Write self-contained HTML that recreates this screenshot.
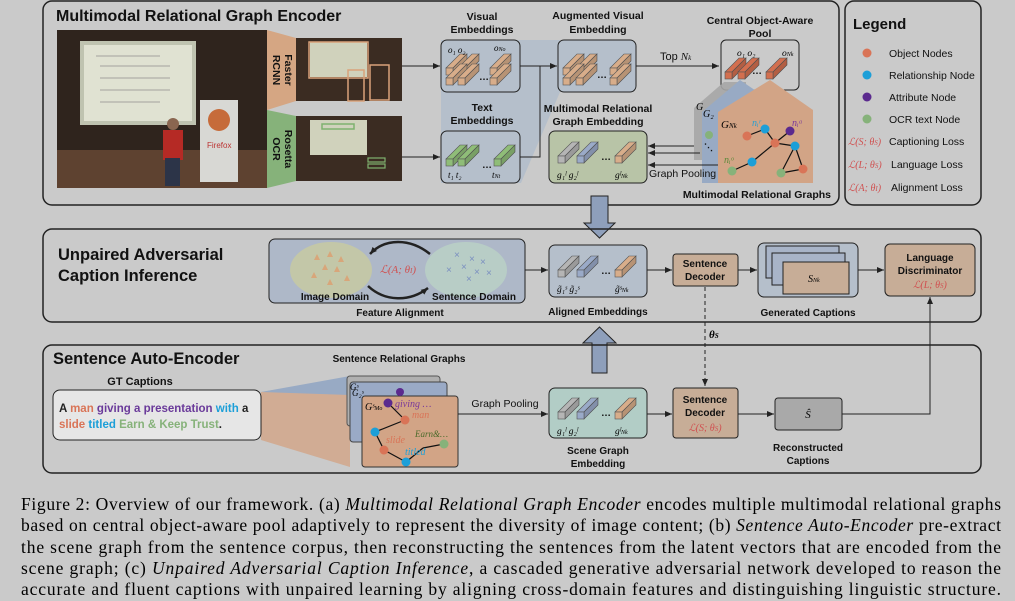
<!DOCTYPE html>
<html><head><meta charset="utf-8"><style>
html,body{margin:0;padding:0;background:#cacaca;}
svg{display:block;}
.b{font-family:"Liberation Sans",sans-serif;font-weight:bold;fill:#111;}
.n{font-family:"Liberation Sans",sans-serif;fill:#111;}
.m{font-family:"Liberation Serif",serif;font-style:italic;}
.cap{font-family:"Liberation Serif",serif;font-size:17.5px;fill:#000;}
</style></head><body>
<svg width="1015" height="601" viewBox="0 0 1015 601" xmlns="http://www.w3.org/2000/svg">
<defs>
<marker id="ah" markerWidth="8" markerHeight="8" refX="7" refY="4" orient="auto" markerUnits="userSpaceOnUse"><path d="M0,1 L7,4 L0,7z" fill="#222"/></marker>
<g id="bar">
<polygon points="0,14 14,0 21,0 7,14" stroke="#555" stroke-width="0.6"/>
<polygon points="7,14 21,0 21,7 7,21" stroke="#555" stroke-width="0.6"/>
<polygon points="7,14 21,0 21,7 7,21" fill="#000" opacity="0.15"/>
<rect x="0" y="14" width="7" height="7" stroke="#555" stroke-width="0.6"/>
</g>
</defs>
<rect width="1015" height="601" fill="#cacaca"/>

<!-- TOP BOX -->
<rect x="43" y="1" width="796" height="204" rx="9" fill="none" stroke="#222" stroke-width="1.5"/>
<text x="56" y="21" class="b" font-size="16">Multimodal Relational Graph Encoder</text>
<!-- photo -->
<rect x="57" y="30" width="210" height="158" fill="#2f241d"/>
<rect x="57" y="150" width="210" height="38" fill="#5e4230"/>
<rect x="80" y="41" width="116" height="84" fill="#bfc3b0"/>
<rect x="84" y="45" width="108" height="76" fill="#e0e2d2"/>
<g stroke="#b8b8b0" stroke-width="1.5"><line x1="96" y1="56" x2="160" y2="56"/><line x1="100" y1="66" x2="170" y2="66"/><line x1="100" y1="78" x2="170" y2="78"/><line x1="100" y1="90" x2="170" y2="90"/><line x1="100" y1="102" x2="160" y2="102"/></g>
<rect x="200" y="100" width="38" height="82" fill="#d8d8d4"/>
<circle cx="219" cy="120" r="11" fill="#c66b3a"/>
<text x="207" y="148" font-family="Liberation Sans" font-size="8" fill="#b33">Firefox</text>
<rect x="163" y="130" width="20" height="30" fill="#b52a25"/>
<rect x="165" y="158" width="15" height="28" fill="#2c3448"/>
<circle cx="173" cy="124" r="6" fill="#8a6650"/>
<!-- trapezoids -->
<polygon points="267,30 296,38 296,101 267,110" fill="#d5a683"/>
<polygon points="267,110 296,116 296,181 267,188" fill="#86b27a"/>
<text transform="translate(285,70) rotate(90)" class="b" font-size="10.5" text-anchor="middle">Faster</text>
<text transform="translate(273,70) rotate(90)" class="b" font-size="10.5" text-anchor="middle">RCNN</text>
<text transform="translate(285,149) rotate(90)" class="b" font-size="10.5" text-anchor="middle">Rosetta</text>
<text transform="translate(273,149) rotate(90)" class="b" font-size="10.5" text-anchor="middle">OCR</text>
<!-- small images -->
<rect x="296" y="38" width="106" height="63" fill="#3b2c22"/>
<rect x="310" y="42" width="57" height="35" fill="#d0d2bc"/>
<rect x="309" y="42" width="59" height="36" fill="none" stroke="#d9a27a" stroke-width="1.5"/>
<rect x="348" y="70" width="16" height="31" fill="none" stroke="#d9a27a" stroke-width="1.5"/>
<rect x="370" y="65" width="19" height="35" fill="none" stroke="#d9a27a" stroke-width="1.5"/>
<rect x="296" y="116" width="106" height="65" fill="#3b2c22"/>
<rect x="310" y="120" width="57" height="35" fill="#d0d2bc"/>
<rect x="322" y="124" width="32" height="5" fill="none" stroke="#7fb26e" stroke-width="1.5"/>
<rect x="368" y="158" width="17" height="4" fill="none" stroke="#7fb26e" stroke-width="1.2"/>
<rect x="368" y="164" width="17" height="4" fill="none" stroke="#7fb26e" stroke-width="1.2"/>
<line x1="402" y1="66" x2="440" y2="66" stroke="#222" marker-end="url(#ah)"/>
<line x1="402" y1="157" x2="440" y2="157" stroke="#222" marker-end="url(#ah)"/>
<!-- blue band -->
<polygon points="441,40 560,40 560,92 521,183 441,183" fill="#b5bfcb"/>
<rect x="441" y="40" width="79" height="52" rx="6" fill="#b5bfcb" stroke="#222"/>
<rect x="441" y="131" width="79" height="52" rx="6" fill="#b5bfcb" stroke="#222"/>
<text x="482" y="20" class="b" font-size="10.5" text-anchor="middle">Visual</text>
<text x="482" y="33" class="b" font-size="10.5" text-anchor="middle">Embeddings</text>
<text x="482" y="111" class="b" font-size="10.5" text-anchor="middle">Text</text>
<text x="482" y="124" class="b" font-size="10.5" text-anchor="middle">Embeddings</text>
<g fill="#d8ad8a"><use href="#bar" x="446" y="54"/><use href="#bar" x="458" y="54"/><use href="#bar" x="446" y="64"/><use href="#bar" x="458" y="64"/><use href="#bar" x="490" y="54"/><use href="#bar" x="490" y="64"/></g>
<text x="479" y="80" class="b" font-size="10">…</text>
<text x="448" y="53" class="m" font-size="9">o₁ o₂</text><text x="494" y="51" class="m" font-size="9">o<tspan font-size="6">No</tspan></text>
<g fill="#8fbd78"><use href="#bar" x="446" y="145"/><use href="#bar" x="458" y="145"/><use href="#bar" x="494" y="145"/></g>
<text x="482" y="168" class="b" font-size="10">…</text>
<text x="448" y="178" class="m" font-size="9">t₁ t₂</text><text x="492" y="178" class="m" font-size="9">t<tspan font-size="6">Nt</tspan></text>
<polyline points="520,157 540,157 540,66" fill="none" stroke="#222"/>
<line x1="520" y1="66" x2="557" y2="66" stroke="#222" marker-end="url(#ah)"/>
<!-- augmented -->
<rect x="558" y="40" width="78" height="52" rx="6" fill="#b5bfcb" stroke="#222"/>
<text x="598" y="19" class="b" font-size="10.5" text-anchor="middle">Augmented Visual</text>
<text x="598" y="33" class="b" font-size="10.5" text-anchor="middle">Embedding</text>
<g fill="#d8ad8a"><use href="#bar" x="563" y="54"/><use href="#bar" x="576" y="54"/><use href="#bar" x="563" y="64"/><use href="#bar" x="576" y="64"/><use href="#bar" x="610" y="54"/><use href="#bar" x="610" y="64"/></g>
<text x="597" y="78" class="b" font-size="10">…</text>
<line x1="636" y1="66" x2="719" y2="66" stroke="#222" marker-end="url(#ah)"/>
<text x="660" y="60" class="n" font-size="11">Top <tspan class="m">N<tspan font-size="7">k</tspan></tspan></text>
<!-- pool -->
<rect x="721" y="40" width="78" height="50" rx="5" fill="none" stroke="#222"/>
<text x="760" y="24" class="b" font-size="10.5" text-anchor="middle">Central Object-Aware</text>
<text x="760" y="37" class="b" font-size="10.5" text-anchor="middle">Pool</text>
<text x="737" y="56" class="m" font-size="9.5">o₁ o₂</text><text x="782" y="56" class="m" font-size="9.5">o<tspan font-size="6">Nk</tspan></text>
<g fill="#d36f4f"><use href="#bar" x="725" y="58"/><use href="#bar" x="738" y="58"/><use href="#bar" x="766" y="58"/></g>
<text x="752" y="74" class="b" font-size="10">…</text>
<!-- graphs -->
<polygon points="694,108 724,82 746,82 746,160 694,160" fill="#a6a6a6" opacity="0.9"/>
<polygon points="702,112 740,80 762,95 762,183 702,183" fill="#98aac4"/>
<polygon points="718,112 770,80 813,110 813,183 718,183" fill="#d2a486"/>
<text x="696" y="110" class="m" font-size="10">G</text><text x="703" y="117" class="m" font-size="10">G₂</text>
<text x="721" y="128" class="m" font-size="11">G<tspan font-size="7">Nk</tspan></text>
<text x="752" y="126" class="m" font-size="10" fill="#2a9fd0">nᵢʳ</text>
<text x="792" y="126" class="m" font-size="10" fill="#7a3a9a">nᵢᵃ</text>
<text x="724" y="163" class="m" font-size="10" fill="#5b8a3a">nᵢᵒ</text>
<g stroke="#111" stroke-width="1.2">
<line x1="747" y1="136" x2="765" y2="129"/><line x1="765" y1="129" x2="775" y2="143"/><line x1="775" y1="143" x2="790" y2="131"/>
<line x1="775" y1="143" x2="795" y2="146"/><line x1="775" y1="143" x2="752" y2="162"/><line x1="752" y1="162" x2="732" y2="171"/>
<line x1="795" y1="146" x2="803" y2="169"/><line x1="795" y1="146" x2="781" y2="173"/><line x1="781" y1="173" x2="803" y2="169"/>
</g>
<circle cx="747" cy="136" r="4.5" fill="#d97457"/><circle cx="765" cy="129" r="4.5" fill="#1c9fd8"/><circle cx="790" cy="131" r="4.5" fill="#5b2a8e"/>
<circle cx="775" cy="143" r="4.5" fill="#d97457"/><circle cx="795" cy="146" r="4.5" fill="#1c9fd8"/><circle cx="752" cy="162" r="4.5" fill="#1c9fd8"/>
<circle cx="732" cy="171" r="4.5" fill="#86b27a"/><circle cx="781" cy="173" r="4.5" fill="#86b27a"/><circle cx="803" cy="169" r="4.5" fill="#d97457"/>
<circle cx="709" cy="135" r="4" fill="#86b27a"/>
<text x="704" y="150" class="b" font-size="9">⋱</text>
<!-- MM graph emb -->
<rect x="549" y="131" width="98" height="52" rx="6" fill="#b8c4a7" stroke="#222"/>
<text x="598" y="112" class="b" font-size="10.5" text-anchor="middle">Multimodal Relational</text>
<text x="598" y="125" class="b" font-size="10.5" text-anchor="middle">Graph Embedding</text>
<g><use href="#bar" x="558" y="142" fill="#b5b5b5"/><use href="#bar" x="577" y="142" fill="#9aaac8"/><use href="#bar" x="615" y="142" fill="#d8ad8a"/></g>
<text x="601" y="160" class="b" font-size="10">…</text>
<text x="557" y="178" class="m" font-size="9.5">g₁ˡ  g₂ˡ</text><text x="615" y="178" class="m" font-size="9.5">gˡ<tspan font-size="6">Nk</tspan></text>
<line x1="694" y1="146" x2="648" y2="146" stroke="#222" marker-end="url(#ah)"/>
<line x1="700" y1="153" x2="648" y2="153" stroke="#222" marker-end="url(#ah)"/>
<line x1="718" y1="165" x2="648" y2="165" stroke="#222" marker-end="url(#ah)"/>
<text x="649" y="177" class="n" font-size="10.5">Graph Pooling</text>
<text x="831" y="198" class="b" font-size="10.5" text-anchor="end">Multimodal Relational Graphs</text>

<!-- LEGEND -->
<rect x="845" y="1" width="136" height="204" rx="9" fill="none" stroke="#222" stroke-width="1.5"/>
<text x="853" y="29" class="b" font-size="15">Legend</text>
<circle cx="867" cy="53" r="4.5" fill="#d97457"/><text x="889" y="57" class="n" font-size="10.5">Object Nodes</text>
<circle cx="867" cy="75" r="4.5" fill="#1c9fd8"/><text x="889" y="79" class="n" font-size="10.5">Relationship Node</text>
<circle cx="867" cy="97" r="4.5" fill="#5b2a8e"/><text x="889" y="101" class="n" font-size="10.5">Attribute Node</text>
<circle cx="867" cy="119" r="4.5" fill="#86b27a"/><text x="889" y="123" class="n" font-size="10.5">OCR text Node</text>
<text x="848" y="145" class="m" font-size="10" fill="#d05050">ℒ(S; θ<tspan font-size="7">S</tspan>)</text><text x="889" y="145" class="n" font-size="10.5">Captioning Loss</text>
<text x="848" y="168" class="m" font-size="10" fill="#d05050">ℒ(L; θ<tspan font-size="7">S</tspan>)</text><text x="891" y="168" class="n" font-size="10.5">Language Loss</text>
<text x="848" y="191" class="m" font-size="10" fill="#d05050">ℒ(A; θ<tspan font-size="7">I</tspan>)</text><text x="891" y="191" class="n" font-size="10.5">Alignment Loss</text>

<!-- big arrows -->
<polygon points="591,196 608,196 608,223 615,223 599.5,238 584,223 591,223" fill="#8e9fbb" stroke="#222"/>
<polygon points="599.5,327 616,343 607,343 607,373 592,373 592,343 583,343" fill="#8e9fbb" stroke="#222"/>

<!-- MIDDLE BOX -->
<rect x="43" y="229" width="938" height="93" rx="9" fill="none" stroke="#222" stroke-width="1.5"/>
<text x="58" y="260" class="b" font-size="16.5">Unpaired Adversarial</text>
<text x="58" y="281" class="b" font-size="16.5">Caption Inference</text>
<rect x="269" y="239" width="256" height="64" rx="6" fill="#aeb8c8" stroke="#222"/>
<ellipse cx="331" cy="270" rx="41" ry="28" fill="#c3c7a8"/>
<ellipse cx="466" cy="270" rx="41" ry="28" fill="#b8cdc6"/>
<g fill="#d8a67a"><polygon points="317,254 320,260 314,260"/><polygon points="330,251 333,257 327,257"/><polygon points="341,256 344,262 338,262"/><polygon points="325,264 328,270 322,270"/><polygon points="337,266 340,272 334,272"/><polygon points="314,272 317,278 311,278"/><polygon points="347,275 350,281 344,281"/><polygon points="330,279 333,285 327,285"/></g>
<g fill="#7a8ec0" font-family="Liberation Sans" font-size="10"><text x="454" y="258">×</text><text x="469" y="262">×</text><text x="480" y="265">×</text><text x="461" y="270">×</text><text x="474" y="275">×</text><text x="446" y="273">×</text><text x="486" y="276">×</text><text x="466" y="282">×</text></g>
<path d="M430,254 C410,238 385,238 370,254" fill="none" stroke="#222" stroke-width="2.5" marker-end="url(#ah)"/>
<path d="M368,286 C385,302 410,302 428,288" fill="none" stroke="#222" stroke-width="2.5" marker-end="url(#ah)"/>
<text x="398" y="273" class="m" font-size="11" fill="#d05050" text-anchor="middle">ℒ(A; θ<tspan font-size="7">I</tspan>)</text>
<text x="335" y="300" class="b" font-size="10" text-anchor="middle">Image Domain</text>
<text x="474" y="300" class="b" font-size="10" text-anchor="middle">Sentence Domain</text>
<text x="400" y="316" class="b" font-size="10" text-anchor="middle">Feature Alignment</text>
<line x1="525" y1="270" x2="548" y2="270" stroke="#222" marker-end="url(#ah)"/>
<rect x="549" y="245" width="98" height="52" rx="6" fill="#b5bfcb" stroke="#222"/>
<g><use href="#bar" x="558" y="256" fill="#b5b5b5"/><use href="#bar" x="577" y="256" fill="#9aaac8"/><use href="#bar" x="615" y="256" fill="#d8ad8a"/></g>
<text x="601" y="274" class="b" font-size="10">…</text>
<text x="557" y="292" class="m" font-size="9.5">g̃₁ˢ  g̃₂ˢ</text><text x="615" y="292" class="m" font-size="9.5">g̃ˢ<tspan font-size="6">Nk</tspan></text>
<text x="598" y="315" class="b" font-size="10" text-anchor="middle">Aligned Embeddings</text>
<line x1="647" y1="270" x2="672" y2="270" stroke="#222" marker-end="url(#ah)"/>
<rect x="673" y="254" width="65" height="32" rx="3" fill="#c7ad97" stroke="#222"/>
<text x="705" y="267" class="b" font-size="10" text-anchor="middle">Sentence</text>
<text x="705" y="280" class="b" font-size="10" text-anchor="middle">Decoder</text>
<line x1="738" y1="270" x2="757" y2="270" stroke="#222" marker-end="url(#ah)"/>
<rect x="758" y="243" width="100" height="54" rx="6" fill="#b5bfcb" stroke="#222"/>
<rect x="766" y="246" width="73" height="32" fill="#a8b4c8" stroke="#222"/>
<rect x="772" y="253" width="73" height="32" fill="#a8b4c8" stroke="#222"/>
<rect x="783" y="262" width="66" height="32" fill="#c7ad97" stroke="#222"/>
<text x="808" y="282" class="m" font-size="10">S<tspan font-size="6">Nk</tspan></text>
<text x="808" y="316" class="b" font-size="10" text-anchor="middle">Generated Captions</text>
<line x1="858" y1="270" x2="884" y2="270" stroke="#222" marker-end="url(#ah)"/>
<rect x="885" y="244" width="90" height="52" rx="5" fill="#c7ad97" stroke="#222"/>
<text x="930" y="261" class="b" font-size="10" text-anchor="middle">Language</text>
<text x="930" y="274" class="b" font-size="10" text-anchor="middle">Discriminator</text>
<text x="930" y="288" class="m" font-size="10" fill="#d05050" text-anchor="middle">ℒ(L; θ<tspan font-size="7">S</tspan>)</text>

<line x1="705" y1="287" x2="705" y2="386" stroke="#222" stroke-dasharray="4,3" marker-end="url(#ah)"/>
<text x="709" y="338" class="m" font-size="11" font-weight="bold">θ<tspan font-size="7">S</tspan></text>

<!-- BOTTOM BOX -->
<rect x="43" y="345" width="938" height="128" rx="9" fill="none" stroke="#222" stroke-width="1.5"/>
<text x="53" y="364" class="b" font-size="16.5">Sentence Auto-Encoder</text>
<text x="399" y="362" class="b" font-size="10" text-anchor="middle">Sentence Relational Graphs</text>
<text x="140" y="385" class="b" font-size="11" text-anchor="middle">GT Captions</text>
<polygon points="261,392 350,378 350,467 261,440" fill="#d2a486" opacity="0.8"/>
<polygon points="261,392 350,376 350,395" fill="#98aac4"/>
<rect x="53" y="390" width="208" height="50" rx="7" fill="#e6e6e6" stroke="#222"/>
<text x="59" y="412" class="b" font-size="11.5"><tspan fill="#222">A </tspan><tspan fill="#d97457">man </tspan><tspan fill="#6a3a9a">giving a presentation </tspan><tspan fill="#1c9fd8">with </tspan><tspan fill="#222">a</tspan></text>
<text x="59" y="428" class="b" font-size="11.5"><tspan fill="#d97457">slide </tspan><tspan fill="#1c9fd8">titled </tspan><tspan fill="#86b27a">Earn &amp; Keep Trust</tspan><tspan fill="#222">.</tspan></text>
<rect x="347" y="376" width="93" height="50" rx="3" fill="#b0b0b0" stroke="#555"/>
<rect x="350" y="382" width="97" height="60" rx="3" fill="#9aaac6" stroke="#444"/>
<rect x="362" y="396" width="96" height="71" rx="3" fill="#d2a486" stroke="#333"/>
<text x="350" y="390" class="m" font-size="9">Gˢ</text><text x="352" y="396" class="m" font-size="9">G₂ˢ</text>
<text x="365" y="410" class="m" font-size="10">Gˢ<tspan font-size="6">Mo</tspan></text>
<g stroke="#111" stroke-width="1.2"><line x1="388" y1="403" x2="405" y2="420"/><line x1="405" y1="420" x2="375" y2="432"/><line x1="375" y1="432" x2="384" y2="450"/><line x1="384" y1="450" x2="406" y2="462"/><line x1="406" y1="462" x2="423" y2="448"/><line x1="423" y1="448" x2="444" y2="444"/></g>
<circle cx="400" cy="392" r="4" fill="#5b2a8e"/>
<circle cx="388" cy="403" r="4.5" fill="#5b2a8e"/><circle cx="405" cy="420" r="4.5" fill="#d97457"/><circle cx="375" cy="432" r="4.5" fill="#1c9fd8"/>
<circle cx="384" cy="450" r="4.5" fill="#d97457"/><circle cx="406" cy="462" r="4.5" fill="#1c9fd8"/><circle cx="444" cy="444" r="4.5" fill="#86b27a"/>
<text x="395" y="407" class="m" font-size="10" fill="#7a3a9a">giving …</text>
<text x="412" y="418" class="m" font-size="10" fill="#d97457">man</text>
<text x="415" y="437" class="m" font-size="9" fill="#4a6a2a">Earn&amp;…</text>
<text x="386" y="443" class="m" font-size="10" fill="#d97457">slide</text>
<text x="405" y="455" class="m" font-size="10" fill="#1c9fd8">titled</text>
<line x1="458" y1="414" x2="548" y2="414" stroke="#222" marker-end="url(#ah)"/>
<text x="505" y="407" class="n" font-size="10.5" text-anchor="middle">Graph Pooling</text>
<rect x="549" y="388" width="98" height="50" rx="6" fill="#b2cdc6" stroke="#222"/>
<g><use href="#bar" x="558" y="398" fill="#b5b5b5"/><use href="#bar" x="577" y="398" fill="#9aaac8"/><use href="#bar" x="615" y="398" fill="#d8ad8a"/></g>
<text x="601" y="416" class="b" font-size="10">…</text>
<text x="557" y="434" class="m" font-size="9.5">g₁ˡ  g₂ˡ</text><text x="615" y="434" class="m" font-size="9.5">gˡ<tspan font-size="6">Nk</tspan></text>
<text x="598" y="454" class="b" font-size="10" text-anchor="middle">Scene Graph</text>
<text x="598" y="467" class="b" font-size="10" text-anchor="middle">Embedding</text>
<line x1="647" y1="414" x2="672" y2="414" stroke="#222" marker-end="url(#ah)"/>
<rect x="673" y="388" width="65" height="50" rx="3" fill="#c7ad97" stroke="#222"/>
<text x="705" y="403" class="b" font-size="10" text-anchor="middle">Sentence</text>
<text x="705" y="416" class="b" font-size="10" text-anchor="middle">Decoder</text>
<text x="705" y="431" class="m" font-size="10" fill="#d05050" text-anchor="middle">ℒ(S; θ<tspan font-size="7">S</tspan>)</text>
<line x1="738" y1="414" x2="774" y2="414" stroke="#222" marker-end="url(#ah)"/>
<rect x="775" y="398" width="67" height="32" rx="3" fill="#a9a9a9" stroke="#222"/>
<text x="808" y="418" class="m" font-size="11" text-anchor="middle">Ŝ</text>
<text x="808" y="451" class="b" font-size="10" text-anchor="middle">Reconstructed</text>
<text x="808" y="464" class="b" font-size="10" text-anchor="middle">Captions</text>
<polyline points="842,414 930,414 930,297" fill="none" stroke="#222" marker-end="url(#ah)"/>

<!-- CAPTION -->
<text x="21" y="510" class="cap" textLength="980" lengthAdjust="spacing">Figure 2: Overview of our framework. (a) <tspan font-style="italic">Multimodal Relational Graph Encoder</tspan> encodes multiple multimodal relational graphs</text>
<text x="21" y="531" class="cap" textLength="980" lengthAdjust="spacing">based on central object-aware pool adaptively to represent the diversity of image content; (b) <tspan font-style="italic">Sentence Auto-Encoder</tspan> pre-extract</text>
<text x="21" y="553" class="cap" textLength="980" lengthAdjust="spacing">the scene graph from the sentence corpus, then reconstructing the sentences from the latent vectors that are encoded from the</text>
<text x="21" y="574" class="cap" textLength="980" lengthAdjust="spacing">scene graph; (c) <tspan font-style="italic">Unpaired Adversarial Caption Inference</tspan>, a cascaded generative adversarial network developed to reason the</text>
<text x="21" y="595" class="cap" textLength="980" lengthAdjust="spacing">accurate and fluent captions with unpaired learning by aligning cross-domain features and distinguishing linguistic structure.</text>
</svg>
</body></html>
